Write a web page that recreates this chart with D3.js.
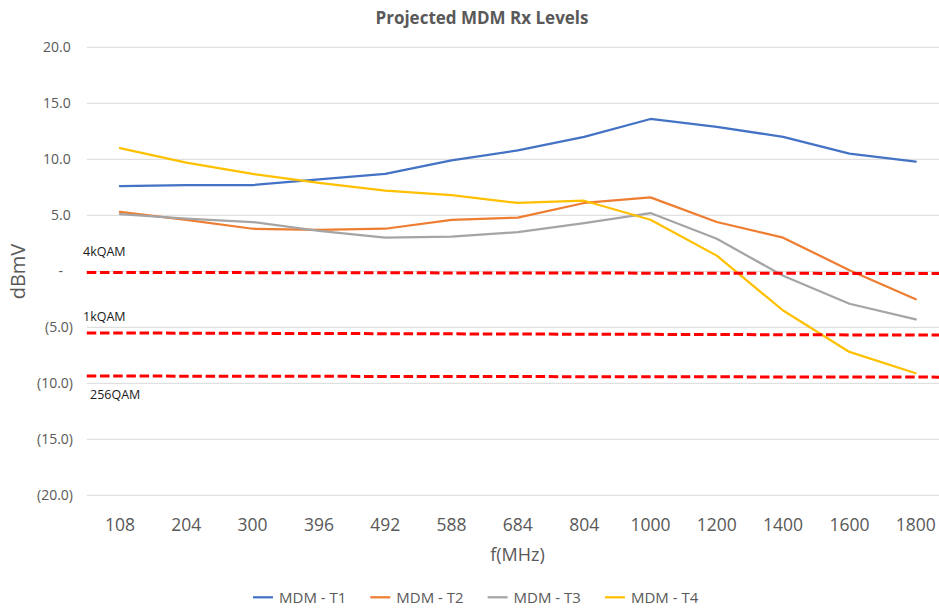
<!DOCTYPE html>
<html>
<head>
<meta charset="utf-8">
<script src="https://cdn.jsdelivr.net/npm/d3@7"></script>
<style>
  body { margin: 0; background: #fff; }
  text { font-family: "Open Sans", sans-serif; }
</style>
</head>
<body>
<div id="chart"></div>
<script>
// Chart data
const frequencies = ["108", "204", "300", "396", "492", "588", "684", "804", "1000", "1200", "1400", "1600", "1800"];
const seriesNames = ["MDM - T1", "MDM - T2", "MDM - T3", "MDM - T4"];
const t1Values = [7.6, 7.7, 7.7, 8.2, 8.7, 9.9, 10.8, 12.0, 13.6, 12.9, 12.0, 10.5, 9.8];
const t2Values = [5.3, 4.6, 3.8, 3.7, 3.8, 4.6, 4.8, 6.1, 6.6, 4.4, 3.0, 0.1, -2.5];
const t3Values = [5.1, 4.7, 4.4, 3.6, 3.0, 3.1, 3.5, 4.3, 5.2, 2.9, -0.4, -2.9, -4.3];
const t4Values = [11.0, 9.7, 8.7, 7.9, 7.2, 6.8, 6.1, 6.3, 4.6, 1.4, -3.5, -7.2, -9.1];
const yTicks = [20, 15, 10, 5, 0, -5, -10, -15, -20];

// QAM thresholds: value at left edge and at right edge of the plot
const thresholdNames = ["4kQAM", "1kQAM", "256QAM"];
const thresholdStart = [-0.1, -5.5, -9.35];
const thresholdEnd = [-0.2, -5.7, -9.45];

const colors = ["#4472C4", "#ED7D31", "#A5A5A5", "#FFC000"];
const allValues = [t1Values, t2Values, t3Values, t4Values];

const WIDTH = 939, HEIGHT = 608;
const PLOT_LEFT = 86.8, PLOT_RIGHT = 948.9, PLOT_TOP = 47.3, PLOT_BOTTOM = 495.3;

const svg = d3.select("#chart").append("svg")
  .attr("width", WIDTH)
  .attr("height", HEIGHT);

const xScale = d3.scaleBand().domain(frequencies).range([PLOT_LEFT, PLOT_RIGHT]).padding(0);
const yScale = d3.scaleLinear().domain([-20, 20]).range([PLOT_BOTTOM, PLOT_TOP]);
const xEdge = d3.scaleLinear().domain([0, 1]).range([PLOT_LEFT, PLOT_RIGHT]);
const xMid = d => xScale(d) + xScale.bandwidth() / 2;

// Title
svg.append("text")
  .attr("x", 482).attr("y", 24)
  .attr("text-anchor", "middle")
  .attr("font-size", "17px").attr("font-weight", "bold")
  .attr("fill", "#595959")
  .text("Projected MDM Rx Levels");

// Gridlines
svg.append("g")
  .selectAll("line")
  .data(yTicks)
  .enter().append("line")
  .attr("x1", PLOT_LEFT).attr("x2", PLOT_RIGHT)
  .attr("y1", d => yScale(d)).attr("y2", d => yScale(d))
  .attr("stroke", "#D9D9D9").attr("stroke-width", 1);

// Y axis labels in accounting format
function fmt(v) {
  if (v === 0) return "-";
  if (v < 0) return "(" + Math.abs(v).toFixed(1) + ")";
  return v.toFixed(1);
}
svg.append("g")
  .selectAll("text")
  .data(yTicks)
  .enter().append("text")
  .attr("x", d => d === 0 ? 63 : (d < 0 ? 73 : 70.7))
  .attr("y", d => yScale(d))
  .attr("dy", "0.36em")
  .attr("text-anchor", "end")
  .attr("font-size", "14px")
  .attr("fill", "#595959")
  .text(fmt);

// X axis labels
svg.append("g")
  .selectAll("text")
  .data(frequencies)
  .enter().append("text")
  .attr("x", d => xMid(d))
  .attr("y", 531)
  .attr("text-anchor", "middle")
  .attr("font-size", "17.5px")
  .attr("fill", "#595959")
  .text(d => d);

// Axis titles
svg.append("text")
  .attr("x", 517.5).attr("y", 561)
  .attr("text-anchor", "middle")
  .attr("font-size", "18px")
  .attr("fill", "#595959")
  .text("f(MHz)");

svg.append("text")
  .attr("transform", "translate(25, 271.5) rotate(-90)")
  .attr("text-anchor", "middle")
  .attr("font-size", "20px")
  .attr("fill", "#595959")
  .text("dBmV");

// Series lines
const line = d3.line()
  .x((d, i) => xMid(frequencies[i]))
  .y(d => yScale(d));

svg.append("g")
  .selectAll("path")
  .data(allValues)
  .enter().append("path")
  .attr("d", line)
  .attr("fill", "none")
  .attr("stroke", (d, i) => colors[i])
  .attr("stroke-width", 2.25)
  .attr("stroke-linejoin", "round")
  .attr("stroke-linecap", "round");

// Threshold dashed lines
const thresholds = thresholdNames.map((n, i) => ({ name: n, start: thresholdStart[i], end: thresholdEnd[i] }));
svg.append("g")
  .selectAll("line")
  .data(thresholds)
  .enter().append("line")
  .attr("x1", xEdge(0)).attr("x2", xEdge(1))
  .attr("y1", d => yScale(d.start)).attr("y2", d => yScale(d.end))
  .attr("stroke", "#FF0000")
  .attr("stroke-width", 3)
  .attr("stroke-dasharray", "9.5 3.7");

// Threshold labels (256QAM sits below its line)
const labelX = [83, 83, 90];
const labelDy = [-16, -12, 23];
svg.append("g")
  .selectAll("text")
  .data(thresholds)
  .enter().append("text")
  .attr("x", (d, i) => labelX[i])
  .attr("y", (d, i) => yScale(d.start) + labelDy[i])
  .attr("font-size", "12.5px")
  .attr("fill", "#1a1a1a")
  .text(d => d.name);

// Legend
const legend = svg.append("g")
  .selectAll("g")
  .data(seriesNames)
  .enter().append("g")
  .attr("transform", (d, i) => `translate(${253 + i * 117.3}, 597.3)`);

legend.append("line")
  .attr("x1", 0).attr("x2", 20)
  .attr("stroke", (d, i) => colors[i])
  .attr("stroke-width", 2.25);

legend.append("text")
  .attr("x", 26).attr("y", 0)
  .attr("dy", "0.36em")
  .attr("font-size", "15px")
  .attr("fill", "#595959")
  .text(d => d);
</script>
</body>
</html>
